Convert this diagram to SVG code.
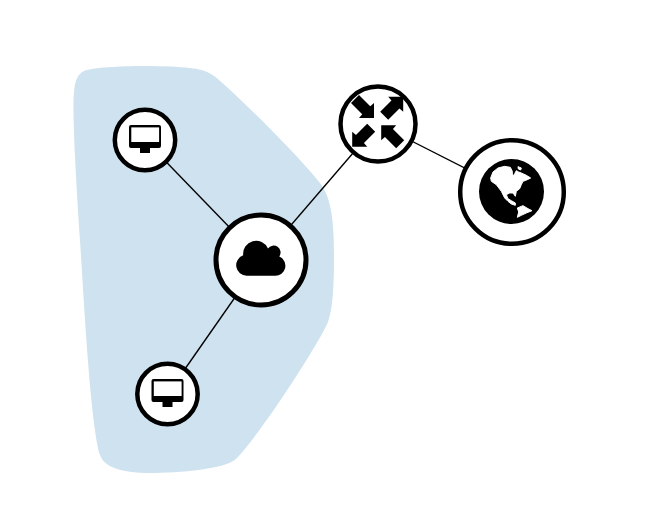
<svg xmlns="http://www.w3.org/2000/svg" width="655" height="525" viewBox="0 0 655 525">
<style>
.n{fill:#fff;stroke:#000;stroke-width:4.500}
.l{stroke:#000;stroke-width:1.4;fill:none}
.i{fill:#000}
.w{fill:#fff;stroke:#fff;stroke-width:3;stroke-linejoin:round}
</style>
<defs>
<g id="pc">
<path class="i" d="M-14 -15H14Q16 -15 16 -13V6Q16 8 14 8H5V13H-5V8H-14Q-16 8 -16 6V-13Q-16 -15 -14 -15Z"/>
<rect fill="#fff" x="-13.700" y="-12.600" width="27.800" height="14.600"/>
</g>
<path id="ar" class="i" d="M-.5 -.5H14.500L11.250 3.250L22.500 14.500L14.500 22.500L3.250 11.250L-.5 14.500Z"/>
</defs>
<path id="zone" fill="#cfe2ef" d="M84 71C100 65 165 65 190 68C208 70 213 74 228 88C255 113 300 158 320 183C332 198 334 225 334 255C334 285 333 308 328 322C318 345 262 432 236 459C225 469 180 473 150 473C125 473 104 468 100 455C91 425 85 320 80 240C76 180 72 110 74 92C75 80 78 74 84 71Z"/>
<g id="connectors">
<line class="l" x1="145" y1="140" x2="261" y2="260"/>
<line class="l" x1="167.500" y1="394" x2="261" y2="260"/>
<line class="l" x1="261" y1="260" x2="378" y2="124"/>
<line class="l" x1="378" y1="124" x2="512" y2="192"/>
</g>
<g id="pc1">
<circle class="n" cx="145" cy="140" r="30.200"/>
<use href="#pc" x="145" y="140"/>
</g>
<g id="pc2">
<circle class="n" cx="167.500" cy="394" r="30.200"/>
<use href="#pc" x="167.500" y="394"/>
</g>
<g id="cloud">
<circle class="n" style="stroke-width:5" cx="261" cy="260" r="45"/>
<path class="i" d="M246.700 275.700A10.500 10.500 0 0 1 243.200 255.300A13 13 0 0 1 268 248.500A6.700 6.700 0 0 1 279.300 256.500A10 10 0 0 1 275 275.700Z"/>
</g>
<g id="router">
<circle class="n" cx="378" cy="124" r="37.500"/>
<use href="#ar" transform="translate(373.500 117.500) rotate(180)"/>
<use href="#ar" transform="translate(402.700 97.300) rotate(90)"/>
<use href="#ar" transform="translate(352.700 146.300) rotate(-90)"/>
<use href="#ar" transform="translate(381.700 125.700)"/>
</g>
<g id="globe">
<circle class="n" cx="512" cy="192" r="51.800"/>
<circle class="i" cx="511.500" cy="191.500" r="32.500"/>
<g transform="translate(478 158) scale(.3333)">
<path class="w" d="M38 60L45 42L60 30L80 25L97 28L103 40L103 48L106 54L110 47L115 38L122 42L130 45L145 52L158 60L148 65L135 70L130 80L125 92L115 100L112 115L105 105L95 105L85 110L90 122L100 128L112 135L112 142L100 138L90 130L80 120L70 100L55 80L40 70Z"/>
<path class="w" d="M118 150L135 143L150 152L162 158L145 165L130 172L118 178L122 162Z"/>
<path class="w" d="M120 26L130 30L128 36L121 33Z"/>
</g>
</g>
</svg>
